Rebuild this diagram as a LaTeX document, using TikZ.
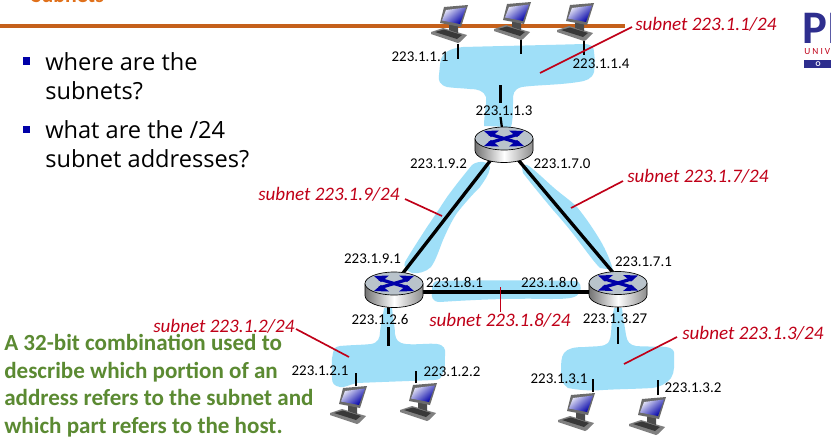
\documentclass[tikz,border=0pt]{standalone}
\usepackage{fontspec}
\setmainfont{Carlito}
\newfontfamily\bulfont{Open Sans}
\definecolor{cloudc}{HTML}{9FDFF8}
\definecolor{barc}{HTML}{C5601B}
\definecolor{titlec}{HTML}{E0701A}
\definecolor{redc}{HTML}{C00018}
\definecolor{greenc}{HTML}{5B8A32}
\definecolor{bluec}{HTML}{0000A8}
\definecolor{navy}{HTML}{2E2E8E}
\definecolor{routerc}{HTML}{B9C3CB}
\tikzset{
  x=0.75pt,y=-0.75pt,
  cloud/.style={fill=cloudc,draw=none},
  wire/.style={draw=black,line width=1.7pt},
  link/.style={draw=black,line width=2.5pt},
  callout/.style={draw=redc,line width=1.25pt},
  addr/.style={font=\fontsize{11.2}{13}\selectfont,text=black,inner sep=0pt},
  subn/.style={font=\fontsize{14.3}{16}\selectfont\itshape,text=redc,inner sep=0pt},
  bull/.style={font=\bulfont\fontsize{17.7}{21.7}\selectfont,text=black,align=left,anchor=north west,inner sep=0pt},
  hostpt/.style={inner sep=0pt,minimum size=1pt},
  pics/laptop/.style={code={
    \fill[black!50] (-18,8) -- (-6,4) -- (18,11) -- (11,18) -- (9,19) -- (-18,10) -- cycle;
    \fill[black!78] (-14,8) -- (-5,5.5) -- (13,11) -- (8,15) -- cycle;
    \fill[black!70] (0,0) -- (9,2) -- (9,9) -- (0,6) -- cycle;
    \fill[black!58] (-5,-17) -- (19,-19) -- (12,3) -- (-9,-1) -- cycle;
    \shade[left color=white!90!bluec,right color=bluec,shading angle=40] (-3,-14) -- (17,-16.5) -- (11,0) -- (-7,-3.5) -- cycle;
  }},
  pics/router/.style={code={
    \shade[left color=black!55,right color=black!45,middle color=white]
      (-29,0) -- (-29,12) arc[start angle=180,end angle=0,x radius=29,y radius=12] -- (29,0) -- cycle;
    \draw[black,line width=0.5pt]
      (-29,0) -- (-29,12) arc[start angle=180,end angle=0,x radius=29,y radius=12] -- (29,0);
    \fill[routerc,draw=black,line width=0.5pt] (0,0) ellipse[x radius=29,y radius=11.5];
    \draw[bluec,line width=2.4pt] (-15,-4.5) -- (15,4.5);
    \draw[bluec,line width=2.4pt] (-15,4.5) -- (15,-4.5);
    \fill[bluec] (-20,-7.5) -- (-5,-8) -- (-13,-1.5) -- cycle;
    \fill[bluec] (20,-7.5) -- (5,-8) -- (13,-1.5) -- cycle;
    \fill[bluec] (-20,7.5) -- (-5,8) -- (-13,1.5) -- cycle;
    \fill[bluec] (20,7.5) -- (5,8) -- (13,1.5) -- cycle;
  }}
}
\begin{document}
\begin{tikzpicture}
\useasboundingbox (0,0) rectangle (831,437);
\fill[white] (0,0) rectangle (831,437);

% title remnant
\node[font=\bfseries\fontsize{16.4}{18}\selectfont,text=titlec,anchor=base west,inner sep=0pt] (ttl) at (31,2) {Subnets};

% clouds
\fill[cloud] (463,47) .. controls (500,46) and (550,45) .. (583,44)
  .. controls (592,44) and (594,47) .. (594,52) .. controls (595,60) and (595,66) .. (594,72)
  .. controls (592,79) and (586,81) .. (578,82)
  .. controls (560,85) and (535,85) .. (522,87) .. controls (513,89) and (513,95) .. (513,100)
  .. controls (513,110) and (513,120) .. (511,127) -- (484,126)
  .. controls (484,115) and (487,103) .. (486,97) .. controls (484,91) and (478,89) .. (470,89)
  .. controls (460,88) and (453,88) .. (447,87)
  .. controls (440,85) and (438,81) .. (439,75) .. controls (440,66) and (440,60) .. (442,57)
  .. controls (446,50) and (454,48) .. (463,47) -- cycle;
% left diagonal cloud
\fill[cloud] (472,165) .. controls (478,160) and (490,161) .. (490,168)
  .. controls (489,175) and (484,181) .. (480,187)
  .. controls (472,195) and (464,204) .. (457,213)
  .. controls (451,222) and (447,231) .. (443,240)
  .. controls (439,250) and (436,260) .. (431,267)
  .. controls (426,272) and (418,274) .. (412,273)
  .. controls (406,271) and (403,266) .. (405,262)
  .. controls (412,250) and (420,238) .. (427,227)
  .. controls (434,217) and (441,206) .. (447,197)
  .. controls (455,186) and (463,176) .. (472,165) -- cycle;
% right diagonal cloud
\fill[cloud] (522,168) .. controls (523,164) and (526,164) .. (529,166)
  .. controls (537,172) and (545,180) .. (553,187)
  .. controls (562,195) and (570,200) .. (577,207)
  .. controls (586,218) and (594,230) .. (600,240)
  .. controls (606,250) and (611,262) .. (613,270)
  -- (600,268)
  .. controls (594,262) and (587,252) .. (580,243)
  .. controls (572,232) and (562,220) .. (553,210)
  .. controls (543,198) and (533,186) .. (523,173) -- cycle;
% horizontal cloud
\fill[cloud] (438,281) .. controls (470,280) and (540,280) .. (574,281)
  .. controls (582,281) and (581,288) .. (580,292) .. controls (577,298) and (570,299) .. (550,299)
  .. controls (510,298) and (470,300) .. (440,302) .. controls (432,302) and (431,296) .. (432,292)
  .. controls (432,285) and (433,281) .. (438,281) -- cycle;
% lower-left cloud
\fill[cloud] (384,308) -- (392,308) .. controls (393,318) and (395,328) .. (395,334)
  .. controls (396,340) and (398,343) .. (406,344)
  .. controls (418,345) and (428,343) .. (437,344) .. controls (444,345) and (446,349) .. (445,355)
  .. controls (445,362) and (445,370) .. (443,373) .. controls (441,378) and (440,380) .. (434,380)
  .. controls (410,381) and (380,382) .. (357,383)
  .. controls (348,385) and (344,388) .. (340,387) .. controls (334,386) and (332,383) .. (332,378)
  .. controls (332,368) and (331,360) .. (333,353) .. controls (334,348) and (335,347) .. (340,346)
  .. controls (350,345) and (362,345) .. (371,344)
  .. controls (378,343) and (380,338) .. (380,332) .. controls (381,322) and (383,316) .. (384,308) -- cycle;
% lower-right cloud
\fill[cloud] (614,308) -- (622,308) .. controls (623,318) and (625,328) .. (626,335)
  .. controls (627,342) and (630,345) .. (636,346)
  .. controls (648,347) and (658,346) .. (666,347) .. controls (673,348) and (675,351) .. (674,356)
  .. controls (674,364) and (675,372) .. (671,378) .. controls (666,384) and (660,387) .. (652,388)
  .. controls (635,389) and (620,389) .. (603,390)
  .. controls (590,391) and (578,390) .. (568,388) .. controls (562,384) and (560,378) .. (561,372)
  .. controls (561,364) and (561,357) .. (564,353) .. controls (568,348) and (575,347) .. (585,347)
  .. controls (596,346) and (604,347) .. (608,343)
  .. controls (612,338) and (611,326) .. (612,320) -- (614,308) -- cycle;

% header rule
\fill[barc] (0,24) rectangle (625,28);

% routers (named anchors)
\node[hostpt] (r1) at (504,143) {};
\node[hostpt] (r2) at (394,292) {};
\node[hostpt] (r3) at (618,292) {};
\coordinate (r2t) at (396,282);
\coordinate (r3t) at (621,282);

% host anchors
\node[hostpt] (h1) at (458,43) {};
\node[hostpt] (h2) at (521,38) {};
\node[hostpt] (h3) at (584,40) {};
\node[hostpt] (h4) at (356,387) {};
\node[hostpt] (h5) at (416,384) {};
\node[hostpt] (h6) at (593,393) {};
\node[hostpt] (h7) at (658,396) {};

% free ends of stubs
\coordinate (e1) at (458,59);
\coordinate (e2) at (521,54);
\coordinate (e3) at (584,55);
\coordinate (e4) at (356,373);
\coordinate (e5) at (416,371);
\coordinate (e6) at (593,379);
\coordinate (e7) at (658,380);
\coordinate (e8) at (500.5,85);
\coordinate (e8b) at (500.5,103);
\coordinate (e8c) at (500.5,117);
\coordinate (e9) at (388.5,327);
\coordinate (e9b) at (388.5,346);
\coordinate (e10) at (618,327);
\coordinate (e10b) at (618,344);
\coordinate (e11) at (388.5,300);
\coordinate (e11b) at (388.5,314);
\coordinate (e12) at (618,300);
\coordinate (e12b) at (618,312);

% links
\draw[link] (r1) -- (r2t);
\draw[link] (r1) -- (r3t);
\draw[link] (r2) -- (r3);
\draw[wire] (h1) -- (e1);
\draw[wire] (h2) -- (e2);
\draw[wire] (h3) -- (e3);
\draw[wire] (h4) -- (e4);
\draw[wire] (h5) -- (e5);
\draw[wire] (h6) -- (e6);
\draw[wire] (h7) -- (e7);
\draw[wire] (e8) -- (e8b);
\draw[wire] (e8c) -- (r1);
\draw[wire] (e9) -- (e9b);
\draw[wire] (e10) -- (e10b);
\draw[wire] (e11) -- (e11b);
\draw[wire] (e12) -- (e12b);

% routers
\pic at (504,138.5) {router};
\pic at (394,283.5) {router};
\pic at (618,283) {router};

% laptops
\pic at (449,24) {laptop};
\pic at (512,21) {laptop};
\pic at (575,22) {laptop};
\pic at (348,405) {laptop};
\pic at (418,402) {laptop};
\pic at (576,412) {laptop};
\pic at (647,416) {laptop};

% red callouts
\coordinate (c1) at (540,73);
\coordinate (c1b) at (632,27);
\coordinate (c2) at (442,216);
\coordinate (c2b) at (405,199);
\coordinate (c3) at (571,208);
\coordinate (c3b) at (623,181);
\coordinate (c4) at (500.5,287);
\coordinate (c4b) at (500.5,312);
\coordinate (c5) at (349,357);
\coordinate (c5b) at (296,329);
\coordinate (c6) at (624,364);
\coordinate (c6b) at (677,337);
\draw[callout] (c1) -- (c1b);
\draw[callout] (c2) -- (c2b);
\draw[callout] (c3) -- (c3b);
\draw[callout] (c4) -- (c4b);
\draw[callout] (c5) -- (c5b);
\draw[callout] (c6) -- (c6b);

% bullets
\fill[bluec] (23,57) rectangle (30,64.5);
\fill[bluec] (23,126) rectangle (30,133);
\node[bull] (b1) at (45,52) {where are the\\subnets?};
\node[bull] (b2) at (45,120) {what are the /24\\subnet addresses?};

% subnet labels
\node[subn,anchor=west] (s1) at (635,24) {subnet 223.1.1/24};
\node[subn,anchor=west] (s2) at (258,194) {subnet 223.1.9/24};
\node[subn,anchor=west] (s3) at (627,176) {subnet 223.1.7/24};
\node[subn,anchor=west] (s4) at (429,320) {subnet 223.1.8/24};
\node[subn,anchor=west] (s5) at (153,326) {subnet 223.1.2/24};
\node[subn,anchor=west] (s6) at (682,333) {subnet 223.1.3/24};

% addresses
\node[addr] (a1) at (420,57) {223.1.1.1};
\node[addr] (a2) at (601,64) {223.1.1.4};
\node[addr] (a3) at (504,111) {223.1.1.3};
\node[addr] (a4) at (438.5,164) {223.1.9.2};
\node[addr] (a5) at (562,164) {223.1.7.0};
\node[addr] (a6) at (372.5,259) {223.1.9.1};
\node[addr] (a7) at (643.5,262) {223.1.7.1};
\node[addr] (a8) at (454.5,282) {223.1.8.1};
\node[addr] (a9) at (549.5,282) {223.1.8.0};
\node[addr] (a10) at (380,320) {223.1.2.6};
\node[addr] (a11) at (615,319) {223.1.3.27};
\node[addr] (a12) at (320,371) {223.1.2.1};
\node[addr] (a13) at (452,372) {223.1.2.2};
\node[addr] (a14) at (559,379) {223.1.3.1};
\node[addr] (a15) at (693,388) {223.1.3.2};

% green text
\node[font=\bfseries\fontsize{17.3}{20.75}\selectfont,text=greenc,align=left,anchor=north west,inner sep=0pt] (g) at (4,334)
  {A 32-bit combination used to\\describe which portion of an\\address refers to the subnet and\\which part refers to the host.};

% logo fragment
\node[font=\bfseries\fontsize{35}{35}\selectfont,text=navy,anchor=base west,inner sep=0pt] (lg) at (802,43) {PI};
\node[font=\fontsize{7}{8}\selectfont,text=redc,anchor=west,inner sep=0pt] (lg2) at (804,52) {U N I V};
\fill[navy] (804,60) rectangle (831,68);
\node[font=\bfseries\fontsize{5.5}{6}\selectfont,text=white,anchor=center,inner sep=0pt] (lg3) at (818,64) {O};
\end{tikzpicture}
\end{document}
